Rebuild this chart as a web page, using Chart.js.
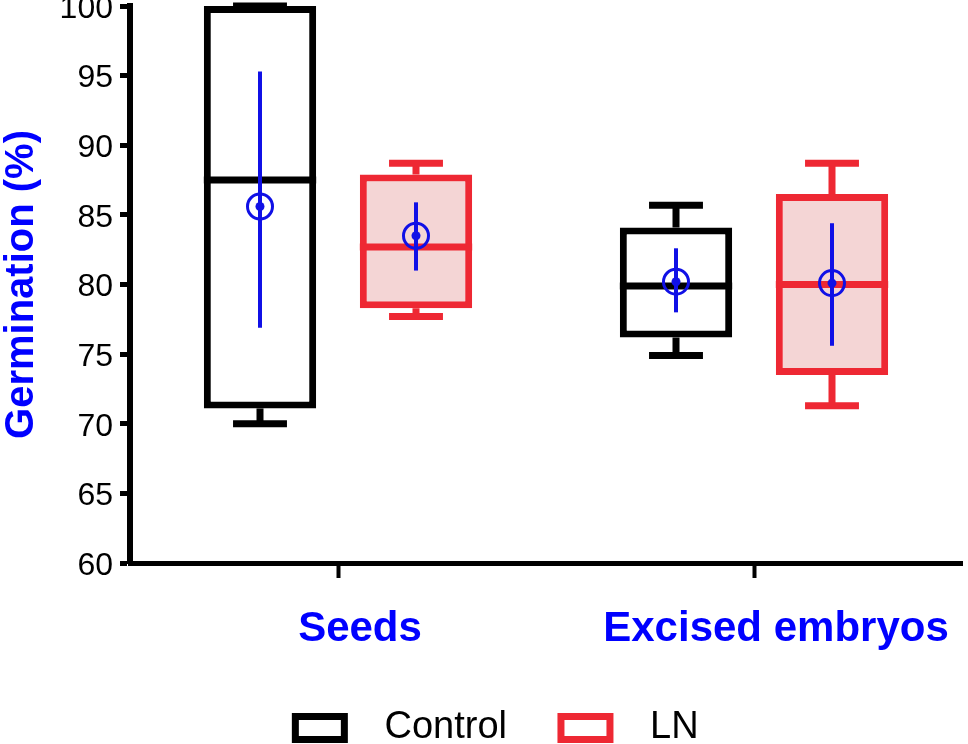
<!DOCTYPE html>
<html>
<head>
<meta charset="utf-8">
<title>Germination</title>
<script src="https://cdn.jsdelivr.net/npm/chart.js@4"></script>
<style>
  html, body { margin: 0; padding: 0; background: #fff; }
  canvas { display: block; }
</style>
</head>
<body>
<canvas id="chart" width="968" height="744"></canvas>
<script>
// ===== Data =====
const categories = ['Seeds', 'Excised embryos'];

// Control boxes
const controlMin    = [70.0, 74.9];
const controlQ1     = [71.1, 76.2];
const controlMedian = [87.5, 79.9];
const controlQ3     = [100.0, 84.1];
const controlMax    = [100.0, 85.7];
const controlMean   = [85.6, 80.2];
const controlErrLow  = [76.9, 78.0];
const controlErrHigh = [95.3, 82.6];

// LN boxes
const lnMin    = [77.7, 71.3];
const lnQ1     = [78.3, 73.5];
const lnMedian = [82.7, 80.0];
const lnQ3     = [87.9, 86.5];
const lnMax    = [88.7, 88.7];
const lnMean   = [83.5, 80.1];
const lnErrLow  = [81.0, 75.6];
const lnErrHigh = [85.9, 84.4];

const yTicks = [60, 65, 70, 75, 80, 85, 90, 95, 100];

const FONT = "'Liberation Sans', Arial, Helvetica, sans-serif";
const BLUE = '#1010e6';
const RED = '#ee2833';

// box = floating bar from Q1 to Q3
const toBox = (lo, hi) => lo.map((v, i) => [v, hi[i]]);

const stats = [
    { min: controlMin, median: controlMedian, max: controlMax, mean: controlMean, lo: controlErrLow, hi: controlErrHigh },
    { min: lnMin, median: lnMedian, max: lnMax, mean: lnMean, lo: lnErrLow, hi: lnErrHigh }
];

// ===== Whiskers, medians and mean markers =====
const boxExtras = {
    id: 'boxExtras',
    afterDatasetsDraw(chart) {
        const ctx = chart.ctx;
        const y = chart.scales.y;
        chart.data.datasets.forEach((ds, d) => {
            const meta = chart.getDatasetMeta(d);
            const s = stats[d];
            meta.data.forEach((bar, i) => {
                const [q1, q3] = ds.data[i];
                const x = bar.x, w = bar.width;
                const capW = w * 0.48;
                ctx.save();
                ctx.strokeStyle = ds.borderColor;
                ctx.lineCap = 'butt';

                // whiskers
                ctx.lineWidth = 7;
                ctx.beginPath();
                ctx.moveTo(x, y.getPixelForValue(q3));
                ctx.lineTo(x, y.getPixelForValue(s.max[i]));
                ctx.moveTo(x, y.getPixelForValue(q1));
                ctx.lineTo(x, y.getPixelForValue(s.min[i]));
                ctx.stroke();
                ctx.beginPath();
                ctx.moveTo(x - capW / 2, y.getPixelForValue(s.max[i]));
                ctx.lineTo(x + capW / 2, y.getPixelForValue(s.max[i]));
                ctx.moveTo(x - capW / 2, y.getPixelForValue(s.min[i]));
                ctx.lineTo(x + capW / 2, y.getPixelForValue(s.min[i]));
                ctx.stroke();

                // median
                ctx.beginPath();
                ctx.moveTo(x - w / 2, y.getPixelForValue(s.median[i]));
                ctx.lineTo(x + w / 2, y.getPixelForValue(s.median[i]));
                ctx.stroke();

                // mean with error line
                const my = y.getPixelForValue(s.mean[i]);
                ctx.strokeStyle = BLUE;
                ctx.fillStyle = BLUE;
                ctx.lineWidth = 4;
                ctx.beginPath();
                ctx.moveTo(x, y.getPixelForValue(s.lo[i]));
                ctx.lineTo(x, y.getPixelForValue(s.hi[i]));
                ctx.stroke();
                ctx.lineWidth = 3;
                ctx.beginPath();
                ctx.arc(x, my, 12.5, 0, Math.PI * 2);
                ctx.stroke();
                ctx.beginPath();
                ctx.arc(x, my, 4.5, 0, Math.PI * 2);
                ctx.fill();
                ctx.restore();
            });
        });
    }
};

new Chart(document.getElementById('chart'), {
    type: 'bar',
    data: {
        labels: categories,
        datasets: [
            {
                label: 'Control',
                data: toBox(controlQ1, controlQ3),
                backgroundColor: '#ffffff',
                borderColor: '#000000',
                borderWidth: 7,
                borderSkipped: false,
                categoryPercentage: 0.75,
                barPercentage: 0.72
            },
            {
                label: 'LN',
                data: toBox(lnQ1, lnQ3),
                backgroundColor: '#f4d5d5',
                borderColor: RED,
                borderWidth: 7,
                borderSkipped: false,
                categoryPercentage: 0.75,
                barPercentage: 0.72
            }
        ]
    },
    options: {
        responsive: false,
        animation: false,
        // left padding only nudges the legend; the y axis width makes up for it
        layout: { padding: { top: 6, right: 6, left: 32, bottom: 0 } },
        plugins: {
            tooltip: { enabled: false },
            legend: {
                position: 'bottom',
                maxHeight: 89,
                labels: {
                    boxWidth: 49,
                    boxHeight: 23,
                    padding: 54,
                    color: '#000',
                    font: { size: 38, family: FONT },
                    generateLabels: chart => chart.data.datasets.map((ds, i) => ({
                        text: '  ' + ds.label,
                        fillStyle: '#ffffff',
                        strokeStyle: ds.borderColor,
                        lineWidth: 7,
                        datasetIndex: i,
                        hidden: false
                    }))
                }
            }
        },
        scales: {
            x: {
                offset: true,
                grid: { display: true, offset: false, drawOnChartArea: false, drawTicks: true, tickLength: 15, tickWidth: 4, tickColor: '#000' },
                border: { display: true, color: '#000', width: 5 },
                ticks: { color: '#0000ff', font: { size: 42, weight: 'bold', family: FONT }, padding: 26, labelOffset: 22, maxRotation: 0, autoSkip: false },
                afterFit: s => { s.height = 92; s.paddingLeft = 0; s.paddingRight = 0; }
            },
            y: {
                min: 60,
                max: 100,
                afterBuildTicks: s => { s.ticks = yTicks.map(v => ({ value: v })); },
                grid: { display: true, drawOnChartArea: false, drawTicks: true, tickLength: 10, tickWidth: 5, tickColor: '#000' },
                border: { display: true, color: '#000', width: 6 },
                ticks: { color: '#000', font: { size: 32, family: FONT }, padding: 7, labelOffset: 3 },
                title: { display: true, text: 'Germination (%)', color: '#0000ff', font: { size: 40, weight: 'bold', family: FONT, lineHeight: 1.1 }, padding: { top: -32, bottom: 0 } },
                afterFit: s => { s.width = 98; s.paddingTop = 0; s.paddingBottom = 0; }
            }
        }
    },
    plugins: [boxExtras]
});
</script>
</body>
</html>
